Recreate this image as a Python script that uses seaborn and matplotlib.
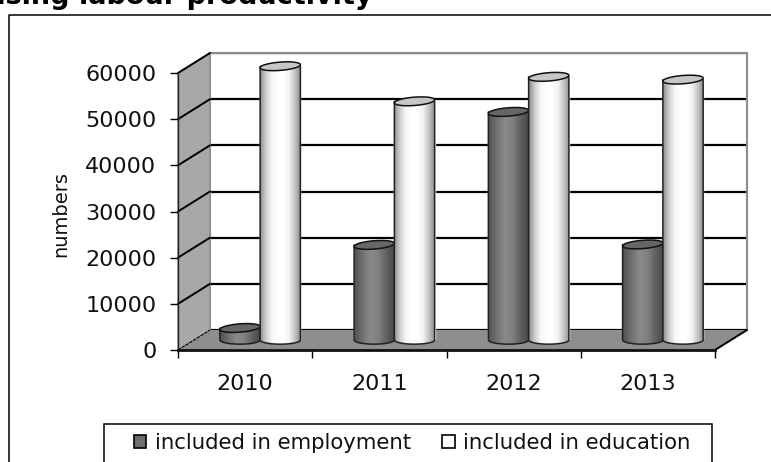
import numpy as np
import pandas as pd
import seaborn as sns
import matplotlib
matplotlib.use("Agg")
import matplotlib.pyplot as plt
from matplotlib.colors import LinearSegmentedColormap
from matplotlib.lines import Line2D
from matplotlib.patches import Patch, Polygon, Rectangle
from matplotlib.path import Path

years = ["2010", "2011", "2012", "2013"]
employment = [2600, 20600, 49400, 20700]
education = [59300, 51700, 57000, 56400]
series_names = ["included in employment", "included in education"]
y_ticks = [0, 10000, 20000, 30000, 40000, 50000, 60000]
title_text = "Increasing labour productivity"

sns.set_theme(style="white")
plt.rcParams["font.family"] = ["DejaVu Sans"]
W, H = 771, 462
fig = plt.figure(figsize=(W / 100, H / 100), dpi=100, facecolor="white")


def rect(x0, ytop, x1, ybot):
    return [x0 / W, 1 - ybot / H, (x1 - x0) / W, (ybot - ytop) / H]


def P(x, y):
    return (x / W, 1 - y / H)


FX0, FX1, FY0, FY1 = 178, 715, 350, 73
DX, DY = 32, 20

df = pd.DataFrame({
    "year": years * 2,
    "series": [series_names[0]] * 4 + [series_names[1]] * 4,
    "value": employment + education,
})

# back wall
ax_back = fig.add_axes(rect(FX0 + DX, FY1 - DY, FX1 + DX, FY0 - DY), zorder=0)
ax_back.set_xlim(-0.5, 3.5)
ax_back.set_ylim(0, 60000)
ax_back.set_xticks([])
ax_back.set_yticks(y_ticks)
ax_back.tick_params(left=False, labelleft=False)
ax_back.grid(axis="y", color="black", lw=1.6)
for side in ["top", "right", "left"]:
    ax_back.spines[side].set_color("#8c8c8c")
    ax_back.spines[side].set_linewidth(1.5)
ax_back.spines["bottom"].set_visible(False)

# left wall and floor
fig.add_artist(Polygon([P(FX0, FY0), P(FX0, FY1), P(FX0 + DX, FY1 - DY), P(FX0 + DX, FY0 - DY)],
                       closed=True, transform=fig.transFigure, fc="#a8a8a8", ec="#8c8c8c", lw=1, zorder=1))
fig.add_artist(Polygon([P(FX0, FY0), P(FX0 + DX, FY0 - DY), P(FX1 + DX, FY0 - DY), P(FX1, FY0)],
                       closed=True, transform=fig.transFigure, fc="#8e8e8e", ec="none", zorder=1))
for v in y_ticks[1:]:
    yy = FY0 - (FY0 - FY1) * v / 60000
    fig.add_artist(Line2D([FX0 / W, (FX0 + DX) / W], [1 - yy / H, 1 - (yy - DY) / H],
                          color="black", lw=1.4, zorder=1.5))
fig.add_artist(Line2D([FX0 / W, (FX0 + DX) / W], [1 - FY0 / H, 1 - (FY0 - DY) / H],
                      color="black", lw=0.8, ls=(0, (3, 1)), zorder=1.5))
fig.add_artist(Line2D([FX1 / W, (FX1 + DX) / W], [1 - FY0 / H, 1 - (FY0 - DY) / H],
                      color="black", lw=1.4, zorder=1.5))

# bars plane, half-way into the depth
ax_bar = fig.add_axes(rect(FX0 + DX / 2 - 1, FY1 - DY / 2, FX1 + DX / 2 - 1, FY0 - DY / 2), zorder=2)
ax_bar.patch.set_alpha(0)
sns.barplot(data=df, x="year", y="value", hue="series", order=years, hue_order=series_names,
            palette=["#7f7f7f", "#ffffff"], width=0.6, gap=0, dodge=True, legend=False, ax=ax_bar)
ax_bar.set_xlim(-0.5, 3.5)
ax_bar.set_ylim(0, 60000)
ax_bar.axis("off")

dark_cm = LinearSegmentedColormap.from_list("d", ["#505050", "#707070", "#8a8a8a", "#808080", "#606060", "#484848"])
light_cm = LinearSegmentedColormap.from_list("l", ["#8e8e8e", "#cfcfcf", "#f6f6f6", "#ffffff", "#ffffff", "#f2f2f2", "#c4c4c4", "#8a8a8a"])
ellipse_h = 1800
tilt = 330
t = np.linspace(0, np.pi, 40)
grad = np.linspace(0, 1, 128).reshape(1, -1)

bars = [b for b in ax_bar.patches if b.get_height() > 0]
bars.sort(key=lambda b: b.get_x())
for i, b in enumerate(bars):
    x, w, h = b.get_x(), b.get_width(), b.get_height()
    cx = x + w / 2
    is_edu = i % 2 == 1
    z = 3 + i
    cm = light_cm if is_edu else dark_cm
    bot_x = cx + w / 2 * np.cos(t)
    bot_y = -ellipse_h / 2 * np.sin(t)
    body_x = np.r_[x, x + w, bot_x]
    body_y = np.r_[h, h, bot_y]
    im = ax_bar.imshow(grad, extent=(x, x + w, -ellipse_h, h), aspect="auto", cmap=cm, zorder=z)
    im.set_clip_path(Path(np.c_[body_x, body_y]), ax_bar.transData)
    im.set_clip_box(fig.bbox)
    ax_bar.plot(np.r_[x, bot_x[::-1], x + w], np.r_[h, bot_y[::-1], h], color="#222222",
                lw=1.1, zorder=z + 0.1, clip_on=False)
    tt = np.linspace(0, 2 * np.pi, 80)
    tx = cx + w / 2 * np.cos(tt)
    ty = h + ellipse_h / 2 * np.sin(tt) + tilt * np.cos(tt)
    ax_bar.fill(tx, ty, fc="#c6c6c6" if is_edu else "#666666", ec="#111111", lw=1.1,
                zorder=z + 0.2, clip_on=False)
ax_bar.set_xlim(-0.5, 3.5)
ax_bar.set_ylim(0, 60000)

# front plane: axes, ticks and labels
ax = fig.add_axes(rect(FX0, FY1, FX1, FY0), zorder=20)
ax.patch.set_alpha(0)
ax.set_xlim(-0.5, 3.5)
ax.set_ylim(0, 60000)
ax.set_yticks(y_ticks)
ax.set_yticklabels([str(v) for v in y_ticks], fontsize=16, color="#111111")
ax.set_xticks(range(4))
ax.set_xticklabels(years, fontsize=16, color="#111111")
ax.set_xticks([-0.5, 0.5, 1.5, 2.5, 3.5], minor=True)
ax.tick_params(axis="x", which="major", bottom=False, pad=11)
ax.tick_params(axis="x", which="minor", bottom=True, length=5.5, width=1, color="black")
ax.tick_params(axis="y", left=True, length=5.5, width=1, color="black", pad=10)
for side in ["top", "right"]:
    ax.spines[side].set_visible(False)
ax.spines["left"].set_color("#222222")
ax.spines["left"].set_linewidth(1)
ax.spines["bottom"].set_color("#111111")
ax.spines["bottom"].set_linewidth(2)
ax.set_ylabel("numbers", fontsize=14, color="#111111")
ax.yaxis.set_label_coords((70 - FX0) / (FX1 - FX0), 0.49)
ax.set_xlabel("")

# outer chart frame, running off the image
fig.add_artist(Line2D([8.5 / W, 8.5 / W, 1], [0, 1 - 14.5 / H, 1 - 14.5 / H], color="black", lw=1.1, zorder=30))

# legend box, cut by the bottom of the image
fig.add_artist(Rectangle(P(104, 470), 608 / W, 46 / H, transform=fig.transFigure,
                         fc="white", ec="black", lw=1.1, zorder=30))
handles = [Patch(fc="#6e6e6e", ec="black", lw=1.2), Patch(fc="white", ec="black", lw=1.2)]
leg = fig.legend(handles, series_names, ncol=2, loc="center left", bbox_to_anchor=P(123, 443),
                 frameon=False, fontsize=15.3, handlelength=0.6, handleheight=0.6,
                 handletextpad=0.4, columnspacing=1.45, labelcolor="#111111", borderpad=0)
leg.set_zorder(31)

# title cut by the top of the image
fig.text(372 / W, 1 - 3.5 / H, title_text, ha="right", va="baseline", fontsize=19.5,
         fontweight="bold", color="black", zorder=30)

fig.savefig("out.png", dpi=100)
